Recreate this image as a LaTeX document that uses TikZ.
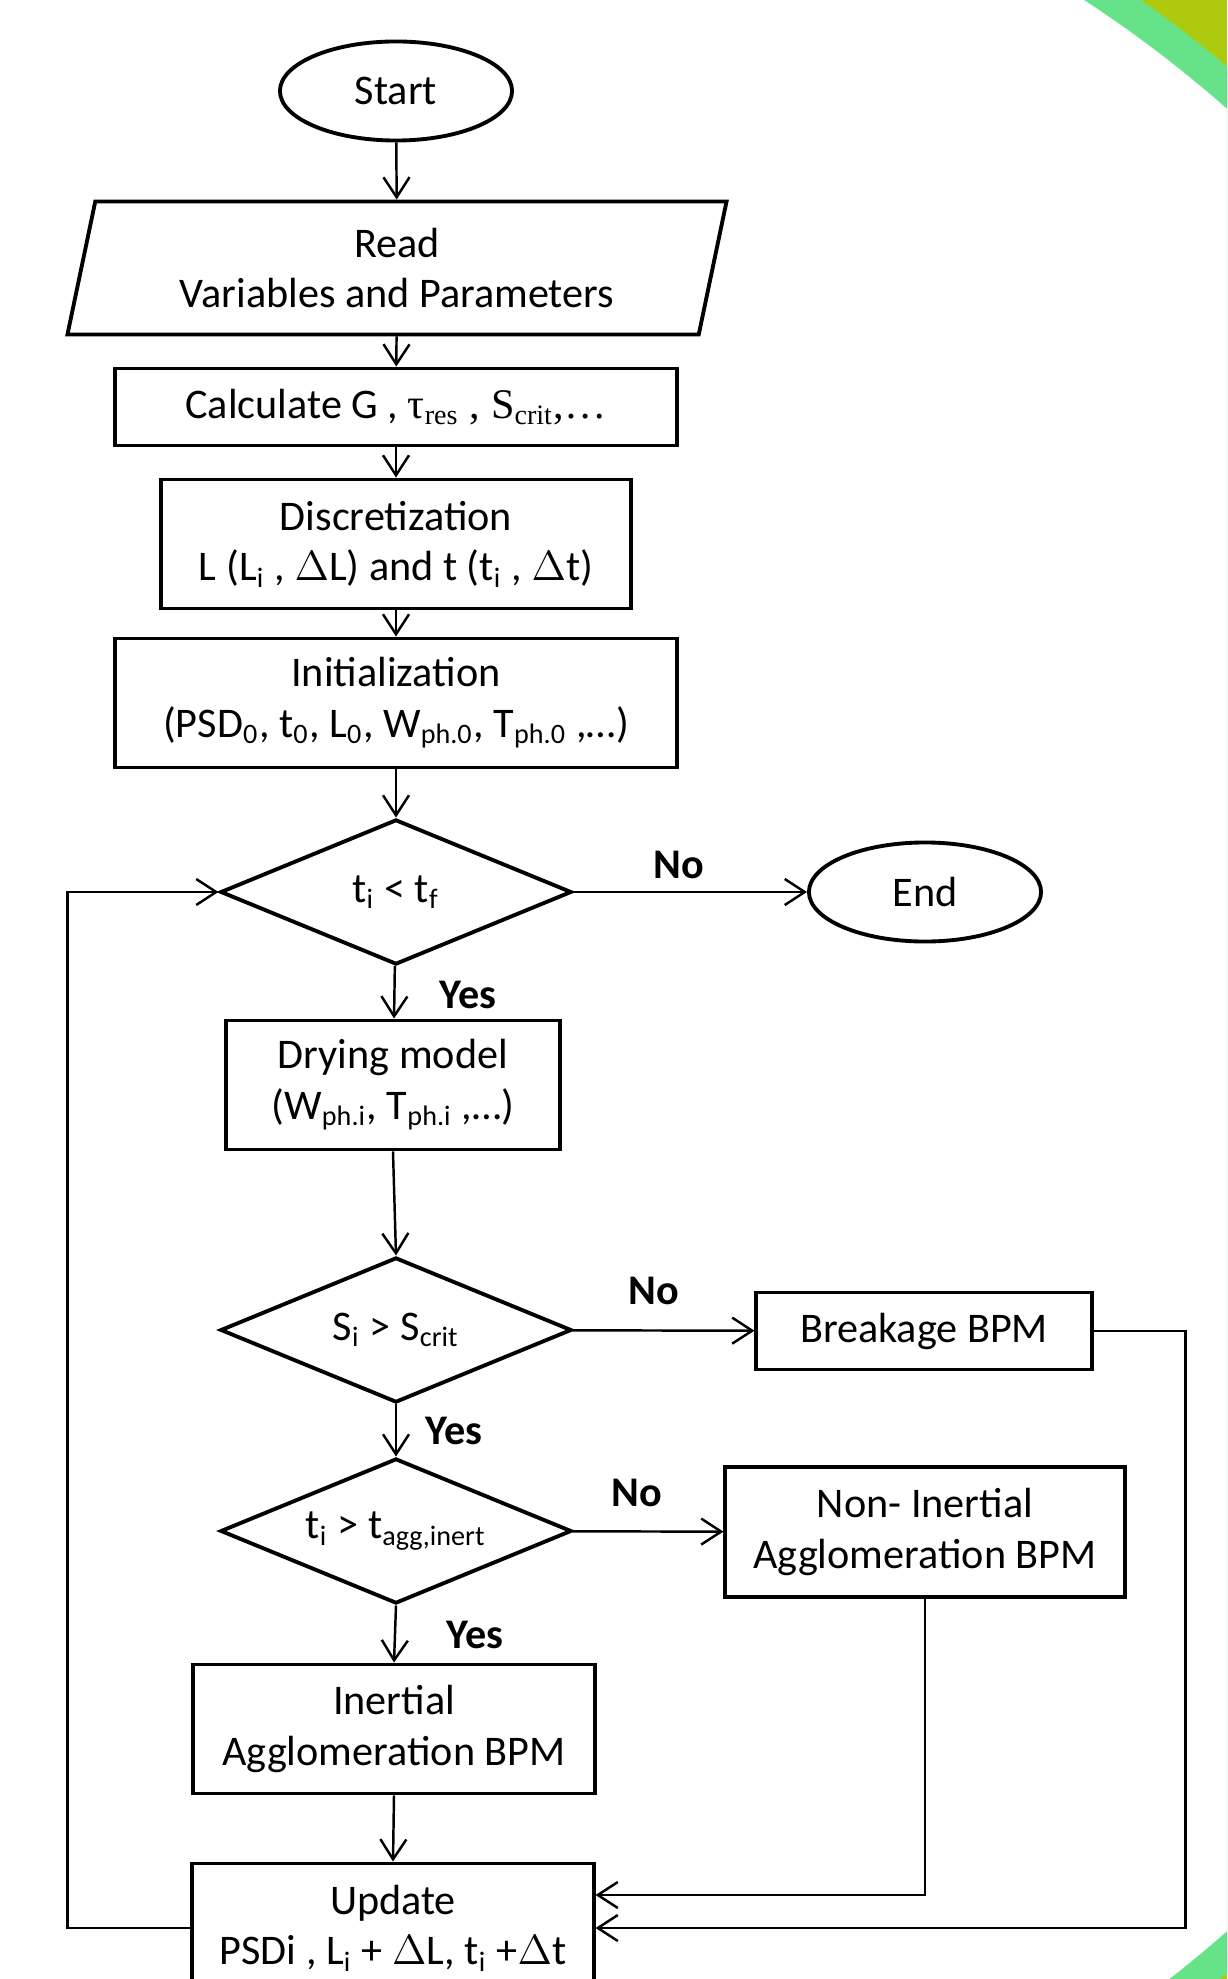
\documentclass[tikz,border=0pt]{standalone}
\usepackage{fontspec}
\setmainfont{Carlito}
\newfontfamily\symfont{Liberation Serif}
\usepackage{tikz}
\usetikzlibrary{shapes.geometric,arrows.meta,positioning}
\definecolor{slidegreen}{HTML}{66E388}
\definecolor{slidelime}{HTML}{AECA0F}

\begin{document}
\begin{tikzpicture}[x=0.01cm, y=-0.01cm, font=\fontsize{12}{14.4}\selectfont,
    flow/.style={draw, line width=0.7pt, -{Straight Barb[length=2mm, width=2.6mm]}},
    proc/.style={draw, line width=1.1pt, align=center, inner sep=0pt,
                 minimum height=1.29cm, fill=white},
    term/.style={draw, line width=1.1pt, ellipse, inner sep=0pt,
                 minimum width=2.32cm, minimum height=0.99cm, fill=white},
    decision/.style={draw, line width=1.1pt, diamond, aspect=2.4, inner sep=0pt,
                     minimum width=3.51cm, minimum height=1.45cm, fill=white},
    lbl/.style={font=\fontsize{12}{14.4}\selectfont\bfseries, inner sep=1pt}]
  \useasboundingbox (0,0) rectangle (1227,1979);
  \clip (0,0) rectangle (1227,1979);
  % slide corners: white disc inside a green ring
  \fill[slidelime] (0,0) rectangle (1227,1979);
  \fill[slidegreen] (422,1020) circle[radius=12.47cm];
  \fill[white] (422,1020) circle[radius=12.15cm];

  % main column
  \node[term] (start) at (396,91) {Start};
  \node[draw, line width=1.1pt, trapezium, trapezium left angle=76,
        trapezium right angle=104, trapezium stretches=true, align=center,
        inner sep=0pt, minimum width=6.6cm, minimum height=1.33cm] (read)
        at (397,268) {Read\\Variables and Parameters};
  \node[proc, minimum width=5.61cm, minimum height=0.77cm] (calc) at (396,407)
        {Calculate G , {\symfont τ\textsubscript{res} , S\textsubscript{crit},…}};
  \node[proc, minimum width=4.69cm] (disc) at (396,544)
        {Discretization\\L (L\textsubscript{i} , $\Delta$L) and t (t\textsubscript{i} , $\Delta$t)};
  \node[proc, minimum width=5.61cm] (init) at (396,703)
        {Initialization\\(PSD\textsubscript{0}, t\textsubscript{0}, L\textsubscript{0},
         W\textsubscript{ph.0}, T\textsubscript{ph.0} ,\ldots)};
  \node[decision] (dtime) at (396,892) {t\textsubscript{i} < t\textsubscript{f}};
  \node[term] (stop) at (925,892) {End};
  \node[proc, minimum width=3.34cm] (dry) at (393,1085)
        {Drying model\\(W\textsubscript{ph.i}, T\textsubscript{ph.i} ,\ldots)};
  \node[decision] (dsat) at (396,1330) {S\textsubscript{i} > S\textsubscript{crit}};
  \node[proc, minimum width=3.35cm, minimum height=0.77cm] (brk) at (924,1331)
        {Breakage BPM};
  \node[decision] (dagg) at (396,1531) {t\textsubscript{i} > t\textsubscript{agg,inert}};
  \node[proc, minimum width=3.99cm, minimum height=1.30cm] (nin) at (925,1532)
        {Non- Inertial\\Agglomeration BPM};
  \node[proc, minimum width=4.01cm] (inr) at (394,1729)
        {Inertial\\Agglomeration BPM};
  \node[proc, minimum width=4.01cm] (upd) at (393,1928)
        {Update\\PSDi , L\textsubscript{i} + $\Delta$L, t\textsubscript{i} +$\Delta$t};

  % branch labels
  \node[lbl] (no1) at (679,865) {No};
  \node[lbl] (yes1) at (468,995) {Yes};
  \node[lbl] (no2) at (654,1291) {No};
  \node[lbl] (yes2) at (454,1431) {Yes};
  \node[lbl] (no3) at (637,1493) {No};
  \node[lbl] (yes3) at (475,1635) {Yes};

  % connectors
  \draw[flow] (start) -- (read);
  \draw[flow] (read) -- (calc);
  \draw[flow] (calc) -- (disc);
  \draw[flow] (disc) -- (init);
  \draw[flow] (init) -- (dtime);
  \draw[flow] (dtime) -- (stop);
  \draw[flow] (dtime) -- (dry);
  \draw[flow] (dry.south) -- (dsat.north);
  \draw[flow] (dsat) -- (brk);
  \draw[flow] (dsat) -- (dagg);
  \draw[flow] (dagg) -- (nin);
  \draw[flow] (dagg.south) -- (inr.north);
  \draw[flow] (inr.south) -- (upd.north);
  \draw[flow] (nin.south) |- ([yshift=3.3mm]upd.east);
  \draw[flow] (brk.east) -- ++(92,0) |- (upd.east);
  \draw[flow] (upd.west) -- ++(-123,0) |- (dtime.west);
\end{tikzpicture}
\end{document}
